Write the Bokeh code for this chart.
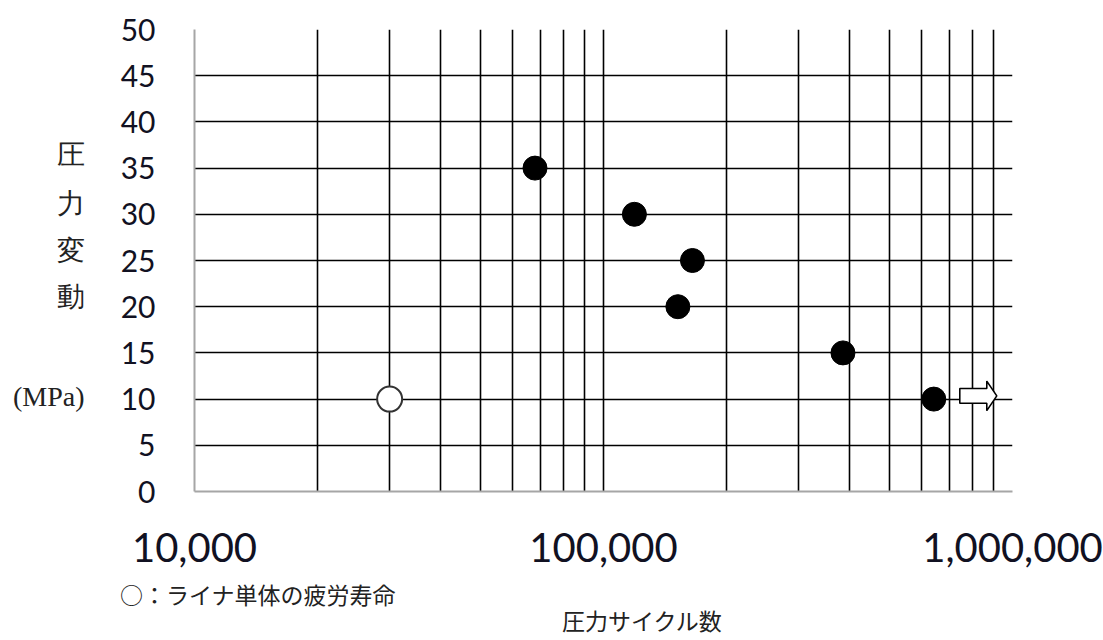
from bokeh.plotting import figure
from bokeh.models import (FixedTicker, Range1d, NumeralTickFormatter,
                          LinearAxis, LogAxis)
from bokeh.embed import file_html
from bokeh.resources import INLINE

# ---- data ----
failure_cycles = [68000, 119000, 165000, 152000, 385000, 642000]
failure_stress = [35, 30, 25, 20, 15, 10]
liner_cycles = [30000]
liner_stress = [10]
runout_cycles = [642000]
runout_stress = [10]

y_ticks = [0, 5, 10, 15, 20, 25, 30, 35, 40, 45, 50]
x_ticks = [10000, 100000, 1000000]
x_minor = [2e4, 3e4, 4e4, 5e4, 6e4, 7e4, 8e4, 9e4,
           2e5, 3e5, 4e5, 5e5, 6e5, 7e5, 8e5, 9e5]

# axis titles (text, and where along the axis they sit)
ylabel_texts = ["圧", "力", "変", "動", "(MPa)"]
ylabel_at = [36.5, 31.15, 26.05, 21.1, 10.3]
legend_text = "○：ライナ単体の疲労寿命"
legend_at = 14300
xlabel_text = "圧力サイクル数"
xlabel_at = 124500

W, H = 1103, 640
p = figure(width=W, height=H, x_axis_type="log",
           x_range=Range1d(1e4, 1e6), y_range=Range1d(0, 50),
           output_backend="svg", toolbar_location=None,
           min_border_left=194, min_border_right=91,
           min_border_top=29, min_border_bottom=148)
p.outline_line_color = None
p.background_fill_color = "white"
p.border_fill_color = "white"

main_x = p.xaxis[0]
main_y = p.yaxis[0]
xt = FixedTicker(ticks=x_ticks, minor_ticks=x_minor)
yt = FixedTicker(ticks=y_ticks)
main_x.ticker = xt
main_x.formatter = NumeralTickFormatter(format="0,0")
main_y.ticker = yt
for ax in (main_x, main_y):
    ax.axis_line_color = "#a6a6a6"
    ax.axis_line_width = 2
    ax.major_tick_line_color = None
    ax.minor_tick_line_color = None
    ax.major_label_text_font = "Lato"
    ax.major_label_text_color = "#111122"
main_x.major_label_text_font_size = "40px"
main_x.major_label_standoff = 35
main_y.major_label_text_font_size = "30px"
main_y.major_label_standoff = 33

# grids
p.xgrid.ticker = xt
p.ygrid.ticker = yt
p.xgrid.grid_line_color = "black"
p.xgrid.grid_line_width = 1.6
p.xgrid.minor_grid_line_color = "black"
p.xgrid.minor_grid_line_width = 1.6
p.ygrid.grid_line_color = "black"
p.ygrid.grid_line_width = 1.6

# axis titles as extra, line-less axes
ax_ytitle = LinearAxis(ticker=FixedTicker(ticks=ylabel_at),
                       major_label_overrides=dict(zip(ylabel_at, ylabel_texts)))
ax_ytitle.major_label_text_font = "Liberation Serif"
ax_ytitle.major_label_text_font_size = "28px"
ax_ytitle.major_label_standoff = 27
ax_xtitle = LogAxis(ticker=FixedTicker(ticks=[legend_at, xlabel_at]),
                    major_label_overrides={legend_at: legend_text,
                                           xlabel_at: "\n" + xlabel_text})
ax_xtitle.major_label_text_font = "Noto Sans CJK JP"
ax_xtitle.major_label_text_font_size = "23px"
ax_xtitle.major_label_text_line_height = 0.78
ax_xtitle.major_label_standoff = 6
for ax in (ax_ytitle, ax_xtitle):
    ax.axis_line_color = None
    ax.major_tick_line_color = None
    ax.minor_tick_line_color = None
    ax.major_label_text_color = "#222222"
p.add_layout(ax_ytitle, "left")
p.add_layout(ax_xtitle, "below")

# data points
p.scatter(failure_cycles, failure_stress, size=24, marker="circle",
          fill_color="black", line_color="black")
p.scatter(liner_cycles, liner_stress, size=25, marker="circle",
          fill_color="white", line_color="#333333", line_width=2)

# run-out arrow (block arrow to the right of the run-out point)
decade_px = 409.0
def shift(x, px):
    return x * 10 ** (px / decade_px)

for rx, ry in zip(runout_cycles, runout_stress):
    c = ry + 0.35
    x0, x1, x2 = shift(rx, 26), shift(rx, 53), shift(rx, 63)
    xs = [x0, x1, x1, x2, x1, x1, x0]
    ys = [c - 0.8, c - 0.8, c - 1.6, c, c + 1.6, c + 0.8, c + 0.8]
    p.patch(xs, ys, fill_color="white", line_color="black", line_width=1.6)

open("out.html", "w").write(file_html(p, INLINE))
